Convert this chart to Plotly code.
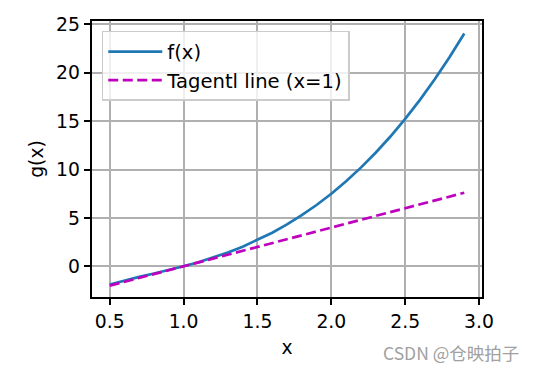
import plotly.graph_objects as go

x_vals = [0.5, 0.6, 0.7, 0.8, 0.9, 1.0, 1.1, 1.2, 1.3, 1.4, 1.5, 1.6, 1.7,
          1.8, 1.9, 2.0, 2.1, 2.2, 2.3, 2.4, 2.5, 2.6, 2.7, 2.8, 2.9]
f_vals = [-1.875, -1.4507, -1.0856, -0.738, -0.3821, 0.0, 0.4219, 0.8947,
          1.4278, 2.0297, 2.7083, 3.471, 4.3248, 5.2764, 6.3327, 7.5, 8.7848,
          10.1935, 11.7322, 13.4073, 15.225, 17.1914, 19.3126, 21.5949, 24.0442]
tangent_vals = [-2.0, -1.6, -1.2, -0.8, -0.4, 0.0, 0.4, 0.8, 1.2, 1.6, 2.0,
                2.4, 2.8, 3.2, 3.6, 4.0, 4.4, 4.8, 5.2, 5.6, 6.0, 6.4, 6.8,
                7.2, 7.6]
series_names = ["f(x)", "Tagentl line (x=1)"]

FONT = "DejaVu Sans"
FS = 18.8

fig = go.Figure()
fig.add_trace(go.Scatter(x=x_vals, y=f_vals, mode="lines", name=series_names[0],
                         line=dict(color="#1f77b4", width=2.7)))
fig.add_trace(go.Scatter(x=x_vals, y=tangent_vals, mode="lines", name=series_names[1],
                         line=dict(color="#bf00bf", width=2.7, dash="10px,4.5px")))

axis_common = dict(
    showline=True, linecolor="black", linewidth=1.5, mirror=True,
    showgrid=True, gridcolor="#b0b0b0", gridwidth=1.5,
    ticks="outside", ticklen=6.5, tickwidth=1.5, tickcolor="black",
    tickfont=dict(family=FONT, size=FS, color="black"),
    zeroline=False,
)

fig.update_layout(
    width=536, height=372,
    margin=dict(l=92, r=54, t=21, b=75),
    paper_bgcolor="white", plot_bgcolor="white",
    font=dict(family=FONT, size=FS, color="black"),
    xaxis=dict(range=[0.38, 3.02], dtick=0.5, tick0=0.5, tickformat=".1f",
               title=dict(text="x", font=dict(family=FONT, size=FS), standoff=10),
               **axis_common),
    yaxis=dict(range=[-3.17, 25.34], dtick=5, tick0=0,
               title=dict(text="g(x)", font=dict(family=FONT, size=FS), standoff=8),
               **axis_common),
    legend=dict(x=0.025, y=0.964, xanchor="left", yanchor="top",
                bgcolor="rgba(255,255,255,0.8)", bordercolor="#cccccc", borderwidth=1.5,
                font=dict(family=FONT, size=19.6, color="black"),
                itemwidth=54, tracegroupgap=0),
    showlegend=True,
)

fig.add_annotation(text="CSDN @仓映拍子", xref="paper", yref="paper",
                   x=1.1, y=-0.2, xanchor="right", yanchor="middle", showarrow=False,
                   font=dict(family="Noto Sans CJK SC", size=17.5, color="#a0a0a0"))

fig.write_html("out.html", config={"displayModeBar": False},
               post_script="document.body.style.margin='0';document.body.style.padding='0';")
